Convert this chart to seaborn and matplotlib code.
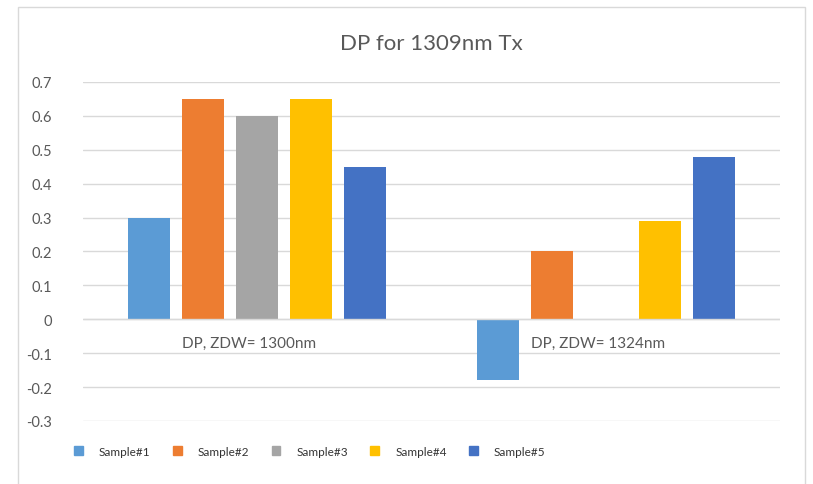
import matplotlib
matplotlib.use('Agg')
import matplotlib.pyplot as plt
import seaborn as sns
import pandas as pd
from matplotlib.patches import Rectangle

# 数据
categories = ['DP, ZDW= 1300nm', 'DP, ZDW= 1324nm']
samples = ['Sample#1', 'Sample#2', 'Sample#3', 'Sample#4', 'Sample#5']
values_1300 = [0.30, 0.65, 0.60, 0.65, 0.45]
values_1324 = [-0.18, 0.20, None, 0.29, 0.48]
colors = ['#5B9BD5', '#ED7D31', '#A5A5A5', '#FFC000', '#4472C4']

rows = []
for cat, vals in zip(categories, [values_1300, values_1324]):
    for s, v in zip(samples, vals):
        if v is not None:
            rows.append({'category': cat, 'sample': s, 'value': v})
df = pd.DataFrame(rows)

sns.set_style('white')
plt.rcParams['font.family'] = ['Lato', 'DejaVu Sans']

fig = plt.figure(figsize=(8.13, 4.85), dpi=100)
ax = fig.add_axes([0.102, 0.130, 0.858, 0.699])

sns.barplot(data=df, x='category', y='value', hue='sample', order=categories,
            hue_order=samples, palette=colors, width=0.774, gap=0.22,
            saturation=1, ax=ax, legend=False, zorder=2, linewidth=0)

ax.set_ylim(-0.3, 0.7)
ax.set_yticks([-0.3, -0.2, -0.1, 0, 0.1, 0.2, 0.3, 0.4, 0.5, 0.6, 0.7])
ax.set_yticklabels(['-0.3', '-0.2', '-0.1', '0', '0.1', '0.2', '0.3', '0.4', '0.5', '0.6', '0.7'])
ax.tick_params(axis='y', length=0, labelsize=10.5, labelcolor='#595959', pad=22)
ax.set_xticks([])
ax.set_xlabel('')
ax.set_ylabel('')
ax.set_xlim(-0.5, 1.5)
ax.grid(True, axis='y', color='#D9D9D9', linewidth=1, zorder=0)
ax.set_axisbelow(True)
ax.axhline(0, color='#D9D9D9', linewidth=1, zorder=3)
for sp in ax.spines.values():
    sp.set_visible(False)

# 类别标签放在0轴下方
for i, cat in enumerate(categories):
    ax.annotate(cat, xy=(i, 0), xytext=(-6, -17), textcoords='offset points',
                ha='center', va='center', fontsize=11, color='#595959')

ax.set_title('DP for 1309nm Tx', fontsize=16, color='#595959', pad=24)

# 图例
handles = [Rectangle((0, 0), 1, 1, color=c) for c in colors]
fig.legend(handles, samples, loc='center left', bbox_to_anchor=(0.078, 0.068),
           ncol=5, frameon=False, fontsize=8.5, handlelength=0.75, handleheight=0.75,
           handletextpad=1.35, columnspacing=1.9, labelcolor='#333333')

# 外框
fig.patches.append(Rectangle((18 / 813, -0.1), (805 - 18) / 813, 1.1 - 8 / 485,
                             transform=fig.transFigure, fill=False,
                             edgecolor='#D9D9D9', linewidth=1))

fig.savefig('out.png', dpi=100)
